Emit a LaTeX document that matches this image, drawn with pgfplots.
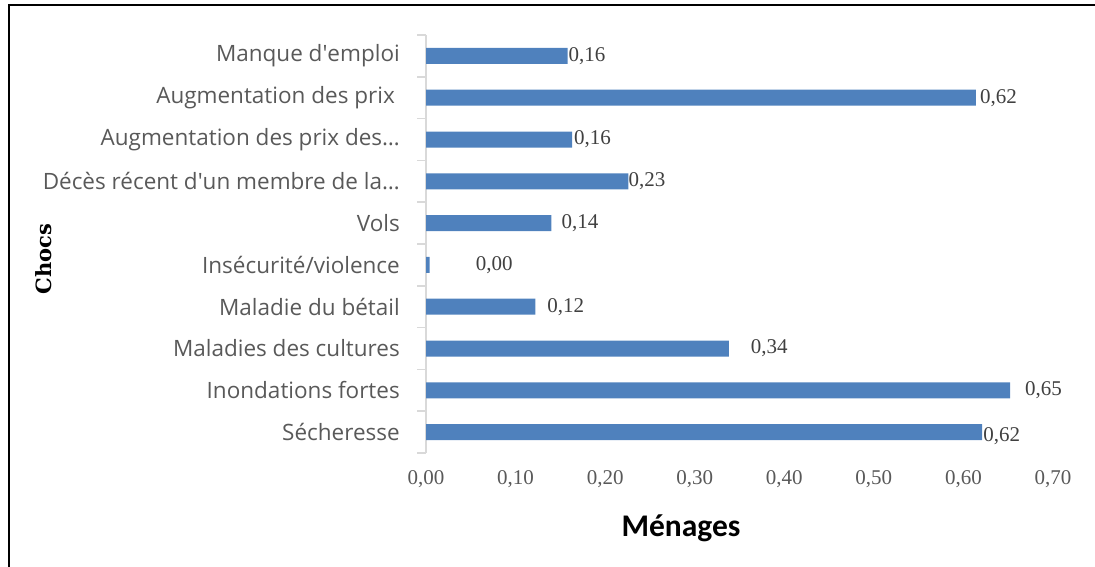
\documentclass[border=0pt]{standalone}
\usepackage{fontspec}
\setmainfont{Liberation Serif}
\newfontfamily\opensans{Open Sans}
\newfontfamily\carlito{Carlito}
\newfontfamily\chocsfont{DejaVu Serif}
\usepackage{pgfplots}
\usepackage{pgfplotstable}
\pgfplotsset{compat=1.18}
\definecolor{barblue}{HTML}{4F81BD}
\definecolor{axgray}{HTML}{D9D9D9}
\definecolor{txtgray}{HTML}{595959}
\definecolor{lblgray}{HTML}{404040}

\pgfplotstableread{
y x lab dx dy
0 0.621 0.62 1 -4
1 0.652 0.65 15 0
2 0.338 0.34 22 0
3 0.122 0.12 12 0
4 0.004 0.00 46 0
5 0.140 0.14 10 0
6 0.226 0.23 0 0
7 0.163 0.16 2 0
8 0.614 0.62 4 0
9 0.158 0.16 1 0
}\datatable

\begin{document}
\begin{tikzpicture}[x=1pt,y=1pt]
\path[use as bounding box] (0,0) rectangle (1095,-567);
\draw[black, line width=1.5pt] (9,-567) -- (9,-5) -- (1095,-5);
\begin{axis}[
  at={(426pt,-453pt)}, anchor=south west,
  scale only axis, width=627pt, height=418pt,
  xbar, bar width=16pt,
  xmin=0, xmax=0.7, ymin=-0.5, ymax=9.5,
  axis lines*=left,
  x axis line style={draw=none},
  y axis line style={draw=axgray, line width=1.5pt},
  xtick={0,0.1,0.2,0.3,0.4,0.5,0.6,0.7},
  xtick style={draw=none},
  ytick={0,...,9},
  major tick length=0pt,
  minor tick length=9pt,
  tick align=outside,
  minor ytick={-0.5,0.5,...,9.5},
  minor y tick style={draw=axgray, line width=1.5pt},
  major y tick style={draw=none},
  yticklabels={{Sécheresse},{Inondations fortes},{Maladies des cultures},{Maladie du bétail},{Insécurité/violence},{Vols},{Décès récent d\textquotesingle un membre de la…},{Augmentation des prix des…},{Augmentation des prix\hspace*{5pt}},{Manque d\textquotesingle emploi}},
  yticklabel style={font=\opensans\fontsize{22.5}{25}\selectfont, text=txtgray, anchor=east, inner sep=0pt, xshift=-26pt},
  xticklabel style={font=\fontsize{21}{24}\selectfont, text=txtgray, anchor=north, inner sep=0pt, yshift=-17pt},
  /pgf/number format/.cd, fixed, fixed zerofill, precision=2, use comma, assume math mode=true,
  /pgfplots/.cd,
  nodes near coords={\pgfmathprintnumber[fixed, fixed zerofill, precision=2, use comma, assume math mode=true]{\pgfplotspointmeta}},
  point meta=explicit,
  visualization depends on={\thisrow{dx} \as \dx},
  visualization depends on={\thisrow{dy} \as \dy},
  every node near coord/.append style={font=\fontsize{21}{24}\selectfont, text=lblgray, anchor=west, inner sep=0pt, xshift=\dx, yshift=\dy},
  clip=false,
]
\addplot[fill=barblue, draw=none] table[x=x, y=y, meta=lab] {\datatable};
\end{axis}
\node[font=\carlito\bfseries\fontsize{31.5}{34}\selectfont] at (681,-528) {Ménages};
\node[font=\chocsfont\bfseries\fontsize{21}{24}\selectfont, rotate=90] at (44,-259) {Chocs};
\end{tikzpicture}
\end{document}
